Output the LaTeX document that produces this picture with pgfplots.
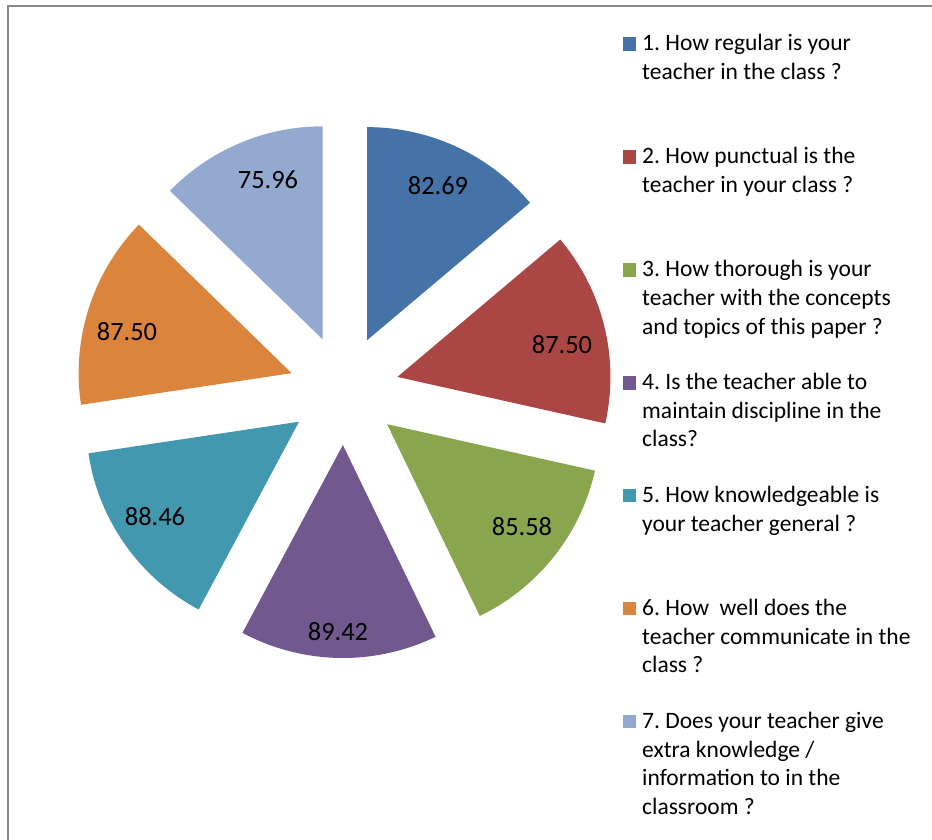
\documentclass[border=0pt]{standalone}
\usepackage{pgfplots}
\pgfplotsset{compat=1.18}
\usepackage{fontspec}
\setmainfont{Carlito}
\frenchspacing

\definecolor{cA}{HTML}{4572A7}
\definecolor{cB}{HTML}{AA4643}
\definecolor{cC}{HTML}{89A54E}
\definecolor{cD}{HTML}{71588F}
\definecolor{cE}{HTML}{4198AF}
\definecolor{cF}{HTML}{DB843D}
\definecolor{cG}{HTML}{93A9CF}
\definecolor{frame}{HTML}{898989}

\newcommand\legendfont{\fontsize{23.6}{28.8}\selectfont}
\newcommand\labfont{\fontsize{26.5}{30}\selectfont}
% legend entry: wrapped text hanging from the first baseline
\newcommand\entry[1]{\parbox[t]{290bp}{\raggedright #1}}

% slice values (percent)
\pgfmathsetmacro\tot{82.69+87.50+85.58+89.42+88.46+87.50+75.96}
\pgfmathsetmacro\aA{90}
\pgfmathsetmacro\aB{\aA-82.69/\tot*360}
\pgfmathsetmacro\aC{\aB-87.50/\tot*360}
\pgfmathsetmacro\aD{\aC-85.58/\tot*360}
\pgfmathsetmacro\aE{\aD-89.42/\tot*360}
\pgfmathsetmacro\aF{\aE-88.46/\tot*360}
\pgfmathsetmacro\aG{\aF-87.50/\tot*360}
\pgfmathsetmacro\aH{\aG-75.96/\tot*360}

% exploded slice: start angle, end angle, colour, legend text
\newcommand\slice[4]{%
  \pgfmathsetmacro\midang{(#1+#2)/2}%
  \pgfmathsetmacro\ox{344+55*cos(\midang)}%
  \pgfmathsetmacro\oy{450+55*sin(\midang)}%
  \edef\tmp{\noexpand\addplot[fill=#3, draw=none, domain=#2:#1, samples=90]
    ({\ox+213*cos(x)},{\oy+213*sin(x)}) -- (axis cs:\ox,\oy) -- cycle;}%
  \tmp
  \addlegendentry{\entry{#4}}}

\begin{document}
\begin{tikzpicture}
\useasboundingbox (0,0) rectangle (932bp,840bp);
\begin{axis}[
  scale only axis, width=932bp, height=840bp,
  xmin=0, xmax=932, ymin=0, ymax=840,
  hide axis, clip=false,
  % invisible strut sets the fixed row pitch of the legend
  legend image code/.code={\path[fill=none, draw=none] (0bp,-94.6bp) rectangle (0bp,17bp);
    \fill[#1] (0bp,0bp) rectangle (13.5bp,13.5bp);},
  legend style={at={(axis cs:622.7,807.5)}, anchor=north west,
    draw=none, fill=none, inner sep=0pt, outer sep=0pt,
    row sep=0pt, column sep=4bp, font=\legendfont,
    cells={anchor=base west, inner sep=0pt}},
]
\draw[frame, line width=2bp] (axis cs:8.3,0) -- (axis cs:8.3,834) -- (axis cs:932,834);

\slice{\aA}{\aB}{cA}{1. How regular is your\\teacher in the class ?}
\slice{\aB}{\aC}{cB}{2. How punctual is the\\teacher in your class ?}
\slice{\aC}{\aD}{cC}{3. How thorough is your\\teacher with the concepts\\and topics of this paper ?}
\slice{\aD}{\aE}{cD}{4. Is the teacher able to\\maintain discipline in the\\class?}
\slice{\aE}{\aF}{cE}{5. How knowledgeable is\\your teacher general ?}
\slice{\aF}{\aG}{cF}{6. How\ \ well does the\\teacher communicate in the\\class ?}
\slice{\aG}{\aH}{cG}{7. Does your teacher give\\extra knowledge /\\information to in the\\classroom ?}

\node[font=\labfont] at (axis cs:438,654) {82.69};
\node[font=\labfont] at (axis cs:562,495) {87.50};
\node[font=\labfont] at (axis cs:522,313) {85.58};
\node[font=\labfont] at (axis cs:338,208) {89.42};
\node[font=\labfont] at (axis cs:155,323) {88.46};
\node[font=\labfont] at (axis cs:127,508) {87.50};
\node[font=\labfont] at (axis cs:268,660) {75.96};
\end{axis}
\end{tikzpicture}
\end{document}
